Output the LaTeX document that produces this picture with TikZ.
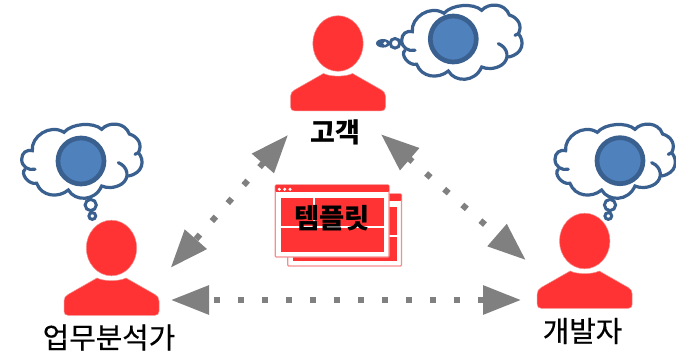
\documentclass[tikz,border=0pt]{standalone}
\usepackage{fontspec}
\setmainfont{Noto Sans CJK KR}
\newfontfamily\labelfont[FakeBold=0.35]{Noto Sans CJK KR}
\usetikzlibrary{arrows.meta,shapes.geometric}
\definecolor{pred}{HTML}{FF3333}
\definecolor{ppink}{HTML}{F58F8F}
\definecolor{cloudline}{HTML}{3A6090}
\definecolor{cloudfill}{HTML}{4F81BD}
\definecolor{arrowgray}{HTML}{808080}
\tikzset{
  personshape/.style={fill=pred,draw=ppink,line width=0.5pt},
  headnode/.style={ellipse,fill=pred,draw=ppink,line width=0.5pt,minimum width=50.4pt,minimum height=55.6pt,inner sep=0pt},
  cloudstroke/.style={draw=cloudline,line width=3.2pt,line cap=round},
  thought/.style={draw=cloudline,line width=4.7pt,fill=cloudfill},
  bubble/.style={draw=cloudline,line width=3pt,fill=white},
  dotarrow/.style={draw=arrowgray,line width=6pt,
    {Triangle[length=38pt,width=28pt,fill=arrowgray]}-{Triangle[length=38pt,width=28pt,fill=arrowgray]}},
  personlabel/.style={font=\labelfont\fontsize{28.8}{29}\selectfont,text=black,inner sep=0pt},
  winframe/.style={fill=white,draw=ppink,line width=1.2pt,rounded corners=1pt},
  winbar/.style={fill=pred,rounded corners=1pt},
  winpanel/.style={fill=pred}
}
% name, head centre x, y
\newcommand{\personicon}[3]{%
  \node[headnode] (#1) at (#2,#3) {};
  \begin{scope}[shift={(#2,#3)}]
    \path[personshape] (-14.5,30) .. controls (-8,33.5) and (8,33.5) .. (14.5,30)
      -- (43.5,46.5) .. controls (46,48) and (47.5,50) .. (47.5,53)
      -- (47.5,63.3) .. controls (47.5,66) and (46,67.3) .. (43.5,67.3)
      -- (-43.5,67.3) .. controls (-46,67.3) and (-47.5,66) .. (-47.5,63.3)
      -- (-47.5,53) .. controls (-47.5,50) and (-46,48) .. (-43.5,46.5) -- cycle;
  \end{scope}}
% origin x, y of the cloud outline
\newcommand{\cloudicon}[2]{%
  \begin{scope}[shift={(#1,#2)},x=0.33333pt,y=-0.33333pt]
    \draw[cloudstroke] (105,178) .. controls (85,182) and (65,170) .. (65,148)
      .. controls (65,128) and (80,118) .. (97,122)
      .. controls (92,80) and (150,40) .. (192,67)
      .. controls (215,40) and (280,35) .. (305,58)
      .. controls (325,35) and (375,35) .. (388,72)
      .. controls (415,80) and (428,105) .. (415,128) -- (405,133);
    \draw[cloudstroke] (415,128) .. controls (435,150) and (430,190) .. (385,198);
    \draw[cloudstroke] (355,158) .. controls (385,170) and (390,205) .. (365,222)
      .. controls (345,235) and (320,235) .. (305,228)
      .. controls (285,275) and (225,275) .. (205,240)
      .. controls (175,265) and (125,260) .. (110,220)
      .. controls (85,225) and (60,190) .. (75,178);
  \end{scope}}
% offset x, y from the front window
\newcommand{\winicon}[2]{%
  \begin{scope}[shift={(#1,#2)}]
    \path[winframe] (275.3,185) rectangle (389,257);
    \path[winbar] (275.3,185) rectangle (389,192);
    \path[winpanel] (280.7,197.7) rectangle (312.7,225.7);
    \path[winpanel] (315.3,197.7) rectangle (384.3,225.7);
    \path[winpanel] (280.7,228.3) rectangle (384.3,251.7);
  \end{scope}}
\begin{document}
\begin{tikzpicture}[x=1pt,y=-1pt]
  \path[fill=white,use as bounding box] (0,0) rectangle (676,352);
  % clouds
  \cloudicon{380}{-9}
  \cloudicon{0}{110}
  \cloudicon{533.3}{110}
  \path[thought] (453.3,39) circle [radius=23];
  \path[thought] (81,161) circle [radius=23];
  \path[thought] (620,160.7) circle [radius=23];
  % bubbles
  \path[bubble] (395,43.3) circle [radius=4.8];
  \path[fill=cloudline] (383,43.3) ellipse [x radius=7, y radius=4.3];
  \path[fill=white] (385,43.3) circle [radius=1.8];
  \path[bubble] (90.7,205) circle [radius=5.6];
  \path[bubble] (92.3,216) circle [radius=3.4];
  \path[bubble] (610,205) circle [radius=5.6];
  \path[bubble] (608.3,216) circle [radius=3.4];
  % people
  \personicon{client}{338}{43.5}
  \personicon{analyst}{111.5}{248}
  \personicon{developer}{584.7}{241}
  % labels
  \node[personlabel,font=\fontsize{27}{27}\selectfont\bfseries] (clientlabel) at (335,132.5) {고객};
  \node[personlabel] (analystlabel) at (109,337.5) {업무분석가};
  \node[personlabel] (developerlabel) at (582.5,331) {개발자};
  % template
  \winicon{12.4}{9}
  \winicon{0}{0}
  \foreach \dx in {279.3,284.7,290} \path[fill=white] (\dx,189.3) circle [radius=1.7];
  \node[personlabel,font=\fontsize{27.4}{27}\selectfont\bfseries] (templatelabel) at (332,218) {템플릿};
  % connectors
  \coordinate (aupper) at (170.7,267.7);
  \coordinate (clow) at (288,135);
  \coordinate (cright) at (381,134.3);
  \coordinate (dup) at (525.7,260);
  \coordinate (aright) at (171,300);
  \coordinate (dleft) at (521,300);
  \draw[dotarrow,dash pattern=on 6pt off 18pt,dash phase=22.3pt] (aupper) -- (clow);
  \draw[dotarrow,dash pattern=on 6pt off 18pt,dash phase=0.8pt] (cright) -- (dup);
  \draw[dotarrow,dash pattern=on 6pt off 18pt,dash phase=18pt] (aright) -- (dleft);
\end{tikzpicture}
\end{document}
